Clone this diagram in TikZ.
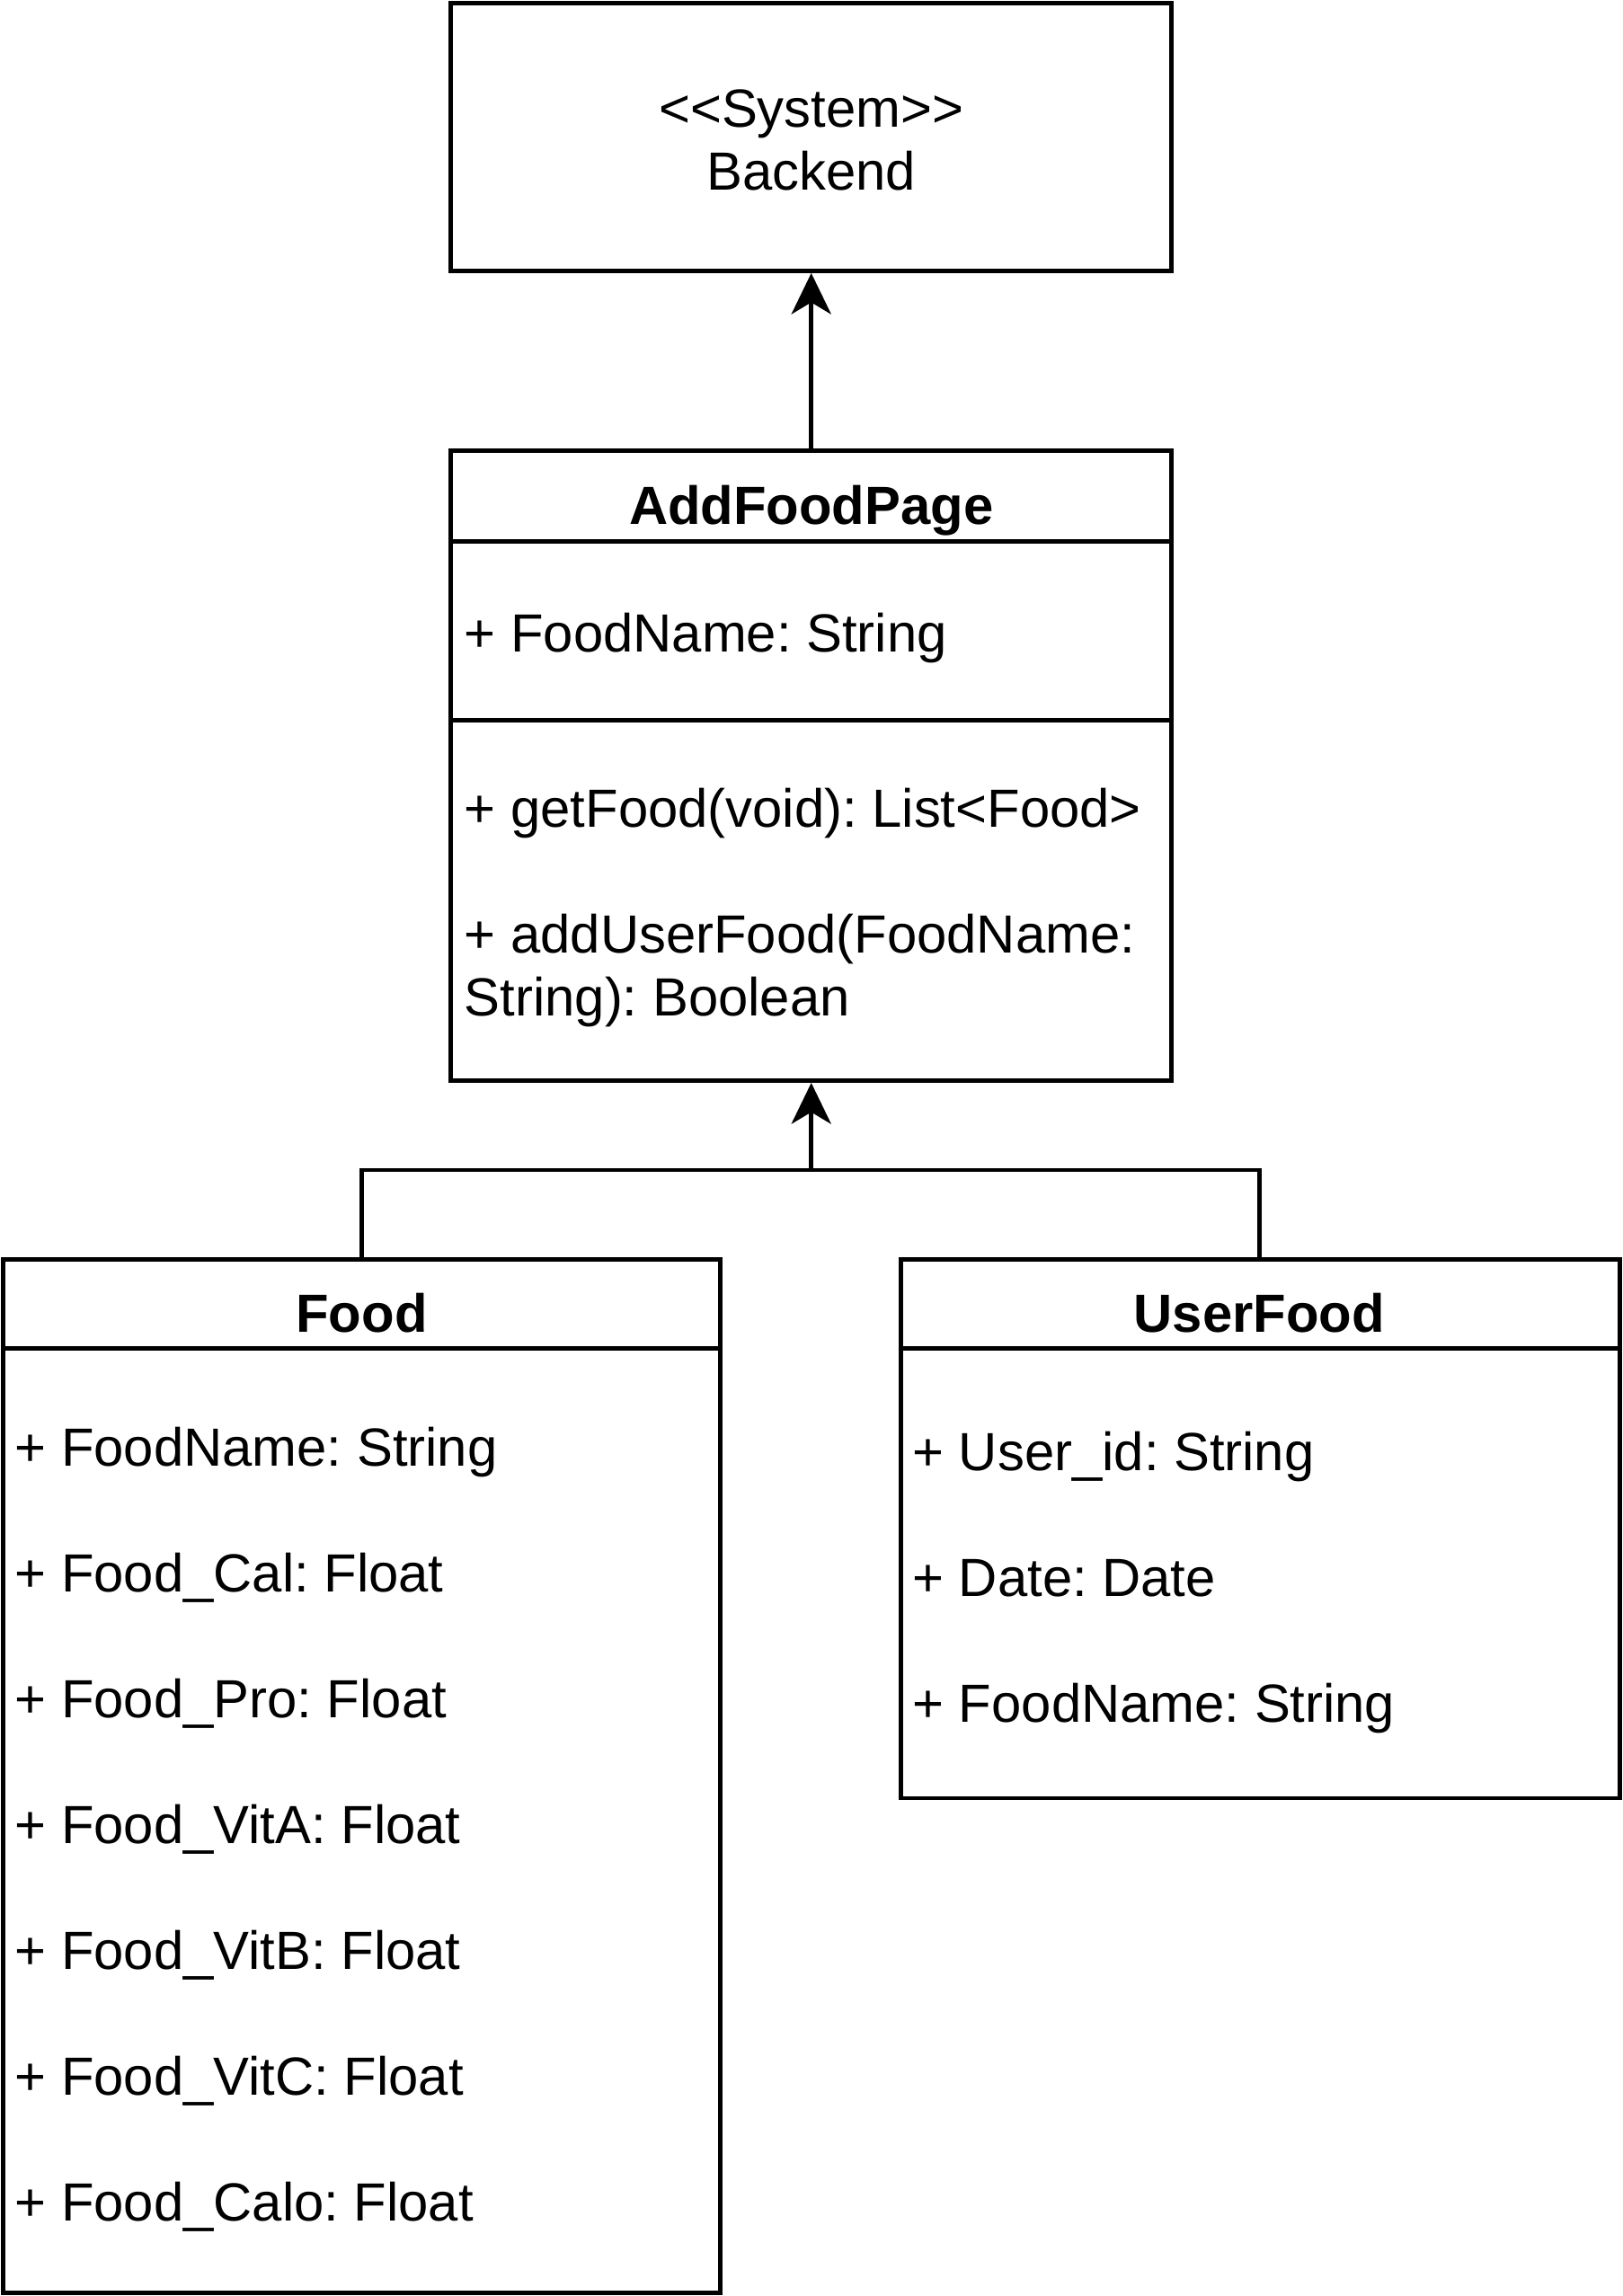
\documentclass[tikz,border=0pt]{standalone}
\usepackage{fontspec}
\setmainfont{Liberation Sans}
\usetikzlibrary{arrows.meta}
\frenchspacing
\begin{document}
\begin{tikzpicture}[x=1pt,y=-1pt,
  box/.style={draw,line width=3pt,rectangle,inner sep=0pt,outer sep=1.5pt,anchor=center},
  sep/.style={line width=3pt},
  conn/.style={line width=3pt},
  arr/.style={conn,-{Stealth[length=28pt,width=27pt,inset=8pt]}},
  txt/.style={inner sep=0pt,anchor=base west,font=\fontsize{36.7}{44}\selectfont},
  ctxt/.style={inner sep=0pt,anchor=base,font=\fontsize{36.7}{44}\selectfont},
  hdr/.style={inner sep=0pt,anchor=base,font=\fontsize{36.7}{44}\selectfont\bfseries}]
\useasboundingbox (0,0) rectangle (1108,1568);
% boxes (centres given, border line centred on the listed edges)
\node[box,minimum width=492pt,minimum height=183pt] (backend) at (554,93.5) {};
\node[box,minimum width=492pt,minimum height=430pt] (addfood) at (554,523) {};
\node[box,minimum width=490pt,minimum height=706pt] (food) at (247,1213) {};
\node[box,minimum width=491pt,minimum height=368pt] (userfood) at (860.5,1044) {};
% separators
\draw[sep] (308,370) -- (800,370);
\draw[sep] (308,492) -- (800,492);
\draw[sep] (2,921) -- (492,921);
\draw[sep] (615,921) -- (1106,921);
% texts
\node[ctxt] (t1) at (554,87) {<{}<System>{}>};
\node[ctxt] (t2) at (554,130) {Backend};
\node[hdr] (h1) at (554,358) {AddFoodPage};
\node[txt] (a1) at (317,445) {+ FoodName: String};
\node[txt] (m1) at (317,565) {+ getFood(void): List<Food>};
\node[txt] (m2) at (317,651) {+ addUserFood(FoodName:};
\node[txt] (m3) at (317,694) {String): Boolean};
\node[hdr] (h2) at (247,910) {Food};
\node[txt] (f1) at (10,1001) {+ FoodName: String};
\node[txt] (f2) at (10,1087) {+ Food\_Cal: Float};
\node[txt] (f3) at (10,1173) {+ Food\_Pro: Float};
\node[txt] (f4) at (10,1259) {+ Food\_VitA: Float};
\node[txt] (f5) at (10,1345) {+ Food\_VitB: Float};
\node[txt] (f6) at (10,1431) {+ Food\_VitC: Float};
\node[txt] (f7) at (10,1517) {+ Food\_Calo: Float};
\node[hdr] (h3) at (860,910) {UserFood};
\node[txt] (u1) at (623,1004) {+ User\_id: String};
\node[txt] (u2) at (623,1090) {+ Date: Date};
\node[txt] (u3) at (623,1176) {+ FoodName: String};
% connectors
\coordinate (j) at (554,799);
\coordinate (fj) at (247,799);
\coordinate (uj) at (860,799);
\draw[arr] (addfood.north) -- (backend.south);
\draw[conn] (food.north -| fj) -- (fj) -- (j);
\draw[conn] (userfood.north -| uj) -- (uj) -- (j);
\draw[arr] (j) -- (addfood.south);
\end{tikzpicture}
\end{document}
